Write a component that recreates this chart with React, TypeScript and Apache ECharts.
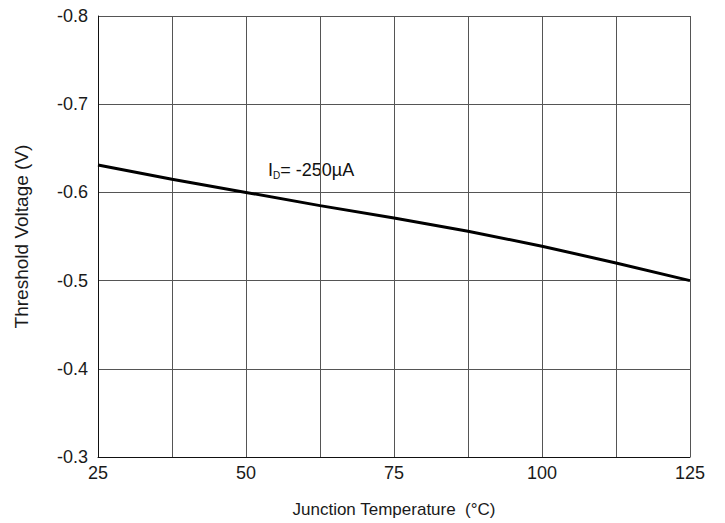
import React, { useEffect, useRef } from "react";
import * as echarts from "echarts";

const temps = [25, 37.5, 50, 62.5, 75, 87.5, 100, 112.5, 125];
const vth = [-0.631, -0.615, -0.6, -0.585, -0.571, -0.556, -0.539, -0.52, -0.5];
const xLabels = [25, 50, 75, 100, 125];
const annotation = "= -250µA";

export default function App() {
  const ref = useRef<HTMLDivElement>(null);
  useEffect(() => {
    const chart = echarts.init(ref.current!, null, { renderer: "svg" });
    const font = "Liberation Sans, Arial, sans-serif";
    chart.setOption({
      animation: false,
      backgroundColor: "#fff",
      grid: { left: 98, right: 35, top: 16, bottom: 63 },
      xAxis: {
        type: "value",
        min: 25,
        max: 125,
        interval: 12.5,
        name: "Junction Temperature  (°C)",
        nameLocation: "middle",
        nameGap: 44,
        nameTextStyle: { color: "#1a1a1a", fontSize: 17, fontFamily: font },
        axisLine: { lineStyle: { color: "#111", width: 1 } },
        axisTick: { show: false },
        axisLabel: {
          color: "#1a1a1a",
          fontSize: 18,
          fontFamily: font,
          margin: 7,
          formatter: (v: number) => (xLabels.includes(v) ? String(v) : ""),
        },
        splitLine: { show: true, lineStyle: { color: "#555", width: 1 } },
      },
      yAxis: {
        type: "value",
        min: -0.8,
        max: -0.3,
        interval: 0.1,
        inverse: true,
        name: "Threshold Voltage (V)",
        nameLocation: "middle",
        nameGap: 67,
        nameRotate: 90,
        nameTextStyle: { color: "#1a1a1a", fontSize: 19, fontFamily: font },
        axisLine: { show: true, lineStyle: { color: "#111", width: 1 } },
        axisTick: { show: false },
        axisLabel: {
          color: "#1a1a1a",
          fontSize: 18,
          fontFamily: font,
          margin: 10,
          formatter: (v: number) => v.toFixed(1),
        },
        splitLine: { show: true, lineStyle: { color: "#555", width: 1 } },
      },
      series: [
        {
          type: "line",
          data: temps.map((t, i) => [t, vth[i]]),
          showSymbol: false,
          lineStyle: { color: "#000", width: 3 },
          smooth: false,
        },
      ],
      graphic: [
        {
          type: "text",
          left: 268,
          top: 159,
          style: {
            text: "{a|I}{b|D}{a|" + annotation + "}",
            rich: {
              a: { fontSize: 18, fontFamily: font, fill: "#111", lineHeight: 22 },
              b: { fontSize: 10, fontFamily: font, fill: "#111", padding: [11, 0, 0, 0], lineHeight: 22 },
            },
          },
        },
      ],
    });
    return () => chart.dispose();
  }, []);
  return <div ref={ref} style={{ width: 725, height: 523, position: "absolute", left: 0, top: 0 }} />;
}
